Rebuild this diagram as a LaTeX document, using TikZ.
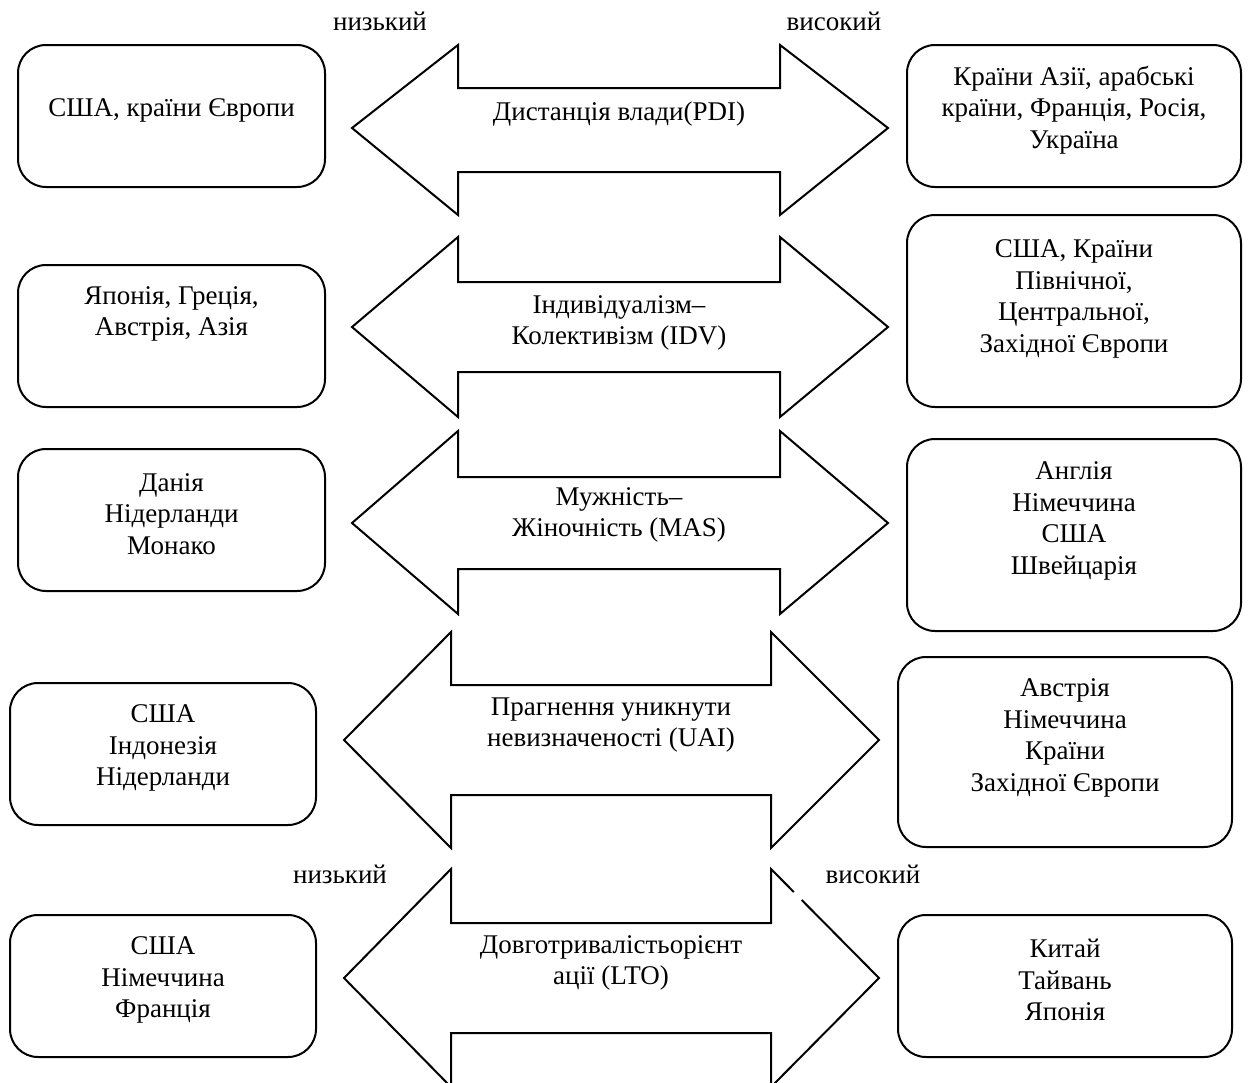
\documentclass[tikz,border=0pt]{standalone}
\usepackage{fontspec}
\setmainfont{Liberation Serif}
\begin{document}
\begin{tikzpicture}[x=1pt,y=-1pt,
  box/.style={draw, line width=2pt, rounded corners=28pt, inner sep=0pt},
  txt/.style={align=center, inner sep=0pt, font=\fontsize{27}{31.6}\selectfont},
  arr/.style={draw, line width=2pt, line join=miter, miter limit=10}]
\clip (0,0) rectangle (1248,1082);
\fill[white] (0,0) rectangle (1248,1082);

% level labels
\node[txt, anchor=base] (lo1) at (380,30) {низький};
\node[txt, anchor=base] (hi1) at (834,30) {високий};
\node[txt, anchor=base] (lo2) at (340,883) {низький};
\node[txt, anchor=base] (hi2) at (873,883) {високий};

% arrows
\draw[arr] (352,128) -- (458,45) -- (458,88) -- (780,88) -- (780,45) -- (888,128)
  -- (780,215) -- (780,172) -- (458,172) -- (458,215) -- cycle;
\draw[arr] (352,327) -- (458,237) -- (458,282) -- (780,282) -- (780,237) -- (888,327)
  -- (780,417) -- (780,372) -- (458,372) -- (458,417) -- cycle;
\draw[arr] (352,523) -- (458,431) -- (458,477) -- (780,477) -- (780,431) -- (888,523)
  -- (780,614) -- (780,569) -- (458,569) -- (458,614) -- cycle;
\draw[arr] (344,740) -- (451,632) -- (451,685) -- (771,685) -- (771,632) -- (879,740)
  -- (771,848) -- (771,795) -- (451,795) -- (451,848) -- cycle;
\draw[arr] (801.7,900) -- (879,978) -- (771,1087) -- (771,1033) -- (451,1033) -- (451,1087)
  -- (344,978) -- (451,869) -- (451,923) -- (771,923) -- (771,869) -- (793.8,892);

% arrow texts
\node[txt] (a1) at (619,114) {Дистанція влади(PDI)};
\node[txt] (a2) at (619,323) {Індивідуалізм–\\Колективізм (IDV)};
\node[txt] (a3) at (619,515) {Мужність–\\Жіночність (MAS)};
\node[txt] (a4) at (611,725) {Прагнення уникнути\\невизначеності (UAI)};
\node[txt] (a5) at (611,963) {Довготривалістьорієнт\\ації (LTO)};

% left boxes
\node[box, minimum width=307pt, minimum height=142pt] (L1) at (171.5,116) {};
\node[box, minimum width=307pt, minimum height=142pt] (L2) at (171.5,336) {};
\node[box, minimum width=307pt, minimum height=142pt] (L3) at (171.5,520) {};
\node[box, minimum width=306pt, minimum height=142pt] (L4) at (163,754) {};
\node[box, minimum width=306pt, minimum height=142pt] (L5) at (163,986) {};
% right boxes
\node[box, minimum width=334pt, minimum height=142pt] (R1) at (1074,116) {};
\node[box, minimum width=334pt, minimum height=192pt] (R2) at (1074,311) {};
\node[box, minimum width=334pt, minimum height=192pt] (R3) at (1074,535) {};
\node[box, minimum width=334pt, minimum height=190pt] (R4) at (1065,752) {};
\node[box, minimum width=334pt, minimum height=142pt] (R5) at (1065,986) {};

% box texts
\node[txt] (L1t) at (171.5,110) {США, країни Європи};
\node[txt] (L2t) at (171.5,314) {Японія, Греція,\\Австрія, Азія};
\node[txt] (L3t) at (171.5,514) {Данія\\Нідерланди\\Монако};
\node[txt] (L4t) at (163,748) {США\\Індонезія\\Нідерланди};
\node[txt] (L5t) at (163,980) {США\\Німеччина\\Франція};
\node[txt] (R1t) at (1074,110) {Країни Азії, арабські\\країни, Франція, Росія,\\Україна};
\node[txt] (R2t) at (1074,299) {США, Країни\\Північної,\\Центральної,\\Західної Європи};
\node[txt] (R3t) at (1074,521) {Англія\\Німеччина\\США\\Швейцарія};
\node[txt] (R4t) at (1065,738) {Австрія\\Німеччина\\Країни\\Західної Європи};
\node[txt] (R5t) at (1065,980) {Китай\\Тайвань\\Японія};
\end{tikzpicture}
\end{document}
